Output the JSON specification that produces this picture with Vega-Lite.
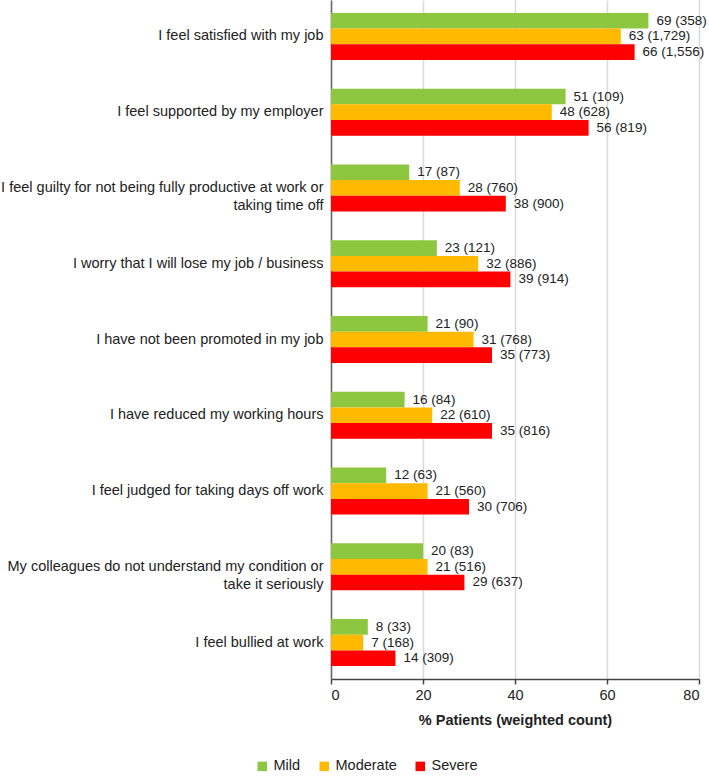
{
  "$schema": "https://vega.github.io/schema/vega-lite/v6.json",
  "width": 368,
  "height": 679,
  "padding": {"left": 0, "top": 0, "right": 0, "bottom": 5},
  "background": "white",
  "data": {
    "values": [
      {"item": "I feel satisfied with my job", "severity": "Mild", "pct": 69, "n": 358},
      {"item": "I feel satisfied with my job", "severity": "Moderate", "pct": 63, "n": 1729},
      {"item": "I feel satisfied with my job", "severity": "Severe", "pct": 66, "n": 1556},
      {"item": "I feel supported by my employer", "severity": "Mild", "pct": 51, "n": 109},
      {"item": "I feel supported by my employer", "severity": "Moderate", "pct": 48, "n": 628},
      {"item": "I feel supported by my employer", "severity": "Severe", "pct": 56, "n": 819},
      {"item": "I feel guilty for not being fully productive at work or|taking time off", "severity": "Mild", "pct": 17, "n": 87},
      {"item": "I feel guilty for not being fully productive at work or|taking time off", "severity": "Moderate", "pct": 28, "n": 760},
      {"item": "I feel guilty for not being fully productive at work or|taking time off", "severity": "Severe", "pct": 38, "n": 900},
      {"item": "I worry that I will lose my job / business", "severity": "Mild", "pct": 23, "n": 121},
      {"item": "I worry that I will lose my job / business", "severity": "Moderate", "pct": 32, "n": 886},
      {"item": "I worry that I will lose my job / business", "severity": "Severe", "pct": 39, "n": 914},
      {"item": "I have not been promoted in my job", "severity": "Mild", "pct": 21, "n": 90},
      {"item": "I have not been promoted in my job", "severity": "Moderate", "pct": 31, "n": 768},
      {"item": "I have not been promoted in my job", "severity": "Severe", "pct": 35, "n": 773},
      {"item": "I have reduced my working hours", "severity": "Mild", "pct": 16, "n": 84},
      {"item": "I have reduced my working hours", "severity": "Moderate", "pct": 22, "n": 610},
      {"item": "I have reduced my working hours", "severity": "Severe", "pct": 35, "n": 816},
      {"item": "I feel judged for taking days off work", "severity": "Mild", "pct": 12, "n": 63},
      {"item": "I feel judged for taking days off work", "severity": "Moderate", "pct": 21, "n": 560},
      {"item": "I feel judged for taking days off work", "severity": "Severe", "pct": 30, "n": 706},
      {"item": "My colleagues do not understand my condition or|take it seriously", "severity": "Mild", "pct": 20, "n": 83},
      {"item": "My colleagues do not understand my condition or|take it seriously", "severity": "Moderate", "pct": 21, "n": 516},
      {"item": "My colleagues do not understand my condition or|take it seriously", "severity": "Severe", "pct": 29, "n": 637},
      {"item": "I feel bullied at work", "severity": "Mild", "pct": 8, "n": 33},
      {"item": "I feel bullied at work", "severity": "Moderate", "pct": 7, "n": 168},
      {"item": "I feel bullied at work", "severity": "Severe", "pct": 14, "n": 309}
    ]
  },
  "transform": [
    {"calculate": "datum.pct + ' (' + format(datum.n, ',') + ')'", "as": "label"}
  ],
  "config": {
    "font": "Liberation Sans",
    "view": {"stroke": null},
    "axis": {
      "labelFont": "Liberation Sans",
      "titleFont": "Liberation Sans",
      "labelColor": "#222",
      "titleColor": "#222",
      "labelFontSize": 14.5,
      "titleFontSize": 14.5
    },
    "legend": {"labelFont": "Liberation Sans", "labelFontSize": 14.5, "labelColor": "#222"}
  },
  "encoding": {
    "y": {
      "field": "item",
      "type": "nominal",
      "sort": null,
      "title": null,
      "scale": {"paddingInner": 0.377, "paddingOuter": 0.17},
      "axis": {
        "labelExpr": "split(datum.label, '|')",
        "labelLimit": 400,
        "labelPadding": 8,
        "labelLineHeight": 18,
        "ticks": false,
        "domainColor": "#666",
        "domainWidth": 1.5,
        "grid": false
      }
    },
    "yOffset": {
      "field": "severity",
      "type": "nominal",
      "sort": ["Mild", "Moderate", "Severe"],
      "scale": {"paddingInner": 0, "paddingOuter": 0}
    },
    "x": {
      "field": "pct",
      "type": "quantitative",
      "title": "% Patients (weighted count)",
      "scale": {"domain": [0, 80]},
      "axis": {
        "values": [0, 20, 40, 60, 80],
        "grid": true,
        "gridColor": "#d9d9d9",
        "gridWidth": 1.5,
        "domainColor": "#444",
        "domainWidth": 1.5,
        "tickColor": "#444",
        "tickWidth": 1.5,
        "tickSize": 5,
        "labelPadding": 4,
        "titleFontWeight": "bold",
        "titlePadding": 12
      }
    }
  },
  "layer": [
    {
      "mark": {"type": "bar"},
      "encoding": {
        "color": {
          "field": "severity",
          "type": "nominal",
          "sort": ["Mild", "Moderate", "Severe"],
          "scale": {"domain": ["Mild", "Moderate", "Severe"], "range": ["#8dc63f", "#ffba00", "#ff0000"]},
          "legend": {
            "title": null,
            "orient": "none",
            "direction": "horizontal",
            "legendX": -76,
            "legendY": 759,
            "symbolType": "square",
            "symbolSize": 90,
            "symbolStrokeWidth": 0,
            "symbolOpacity": 1,
            "columnPadding": 16,
            "labelOffset": 4
          }
        }
      }
    },
    {
      "mark": {"type": "text", "align": "left", "baseline": "middle", "dx": 8, "fontSize": 13.5, "color": "#222"},
      "encoding": {"text": {"field": "label"}}
    }
  ]
}
